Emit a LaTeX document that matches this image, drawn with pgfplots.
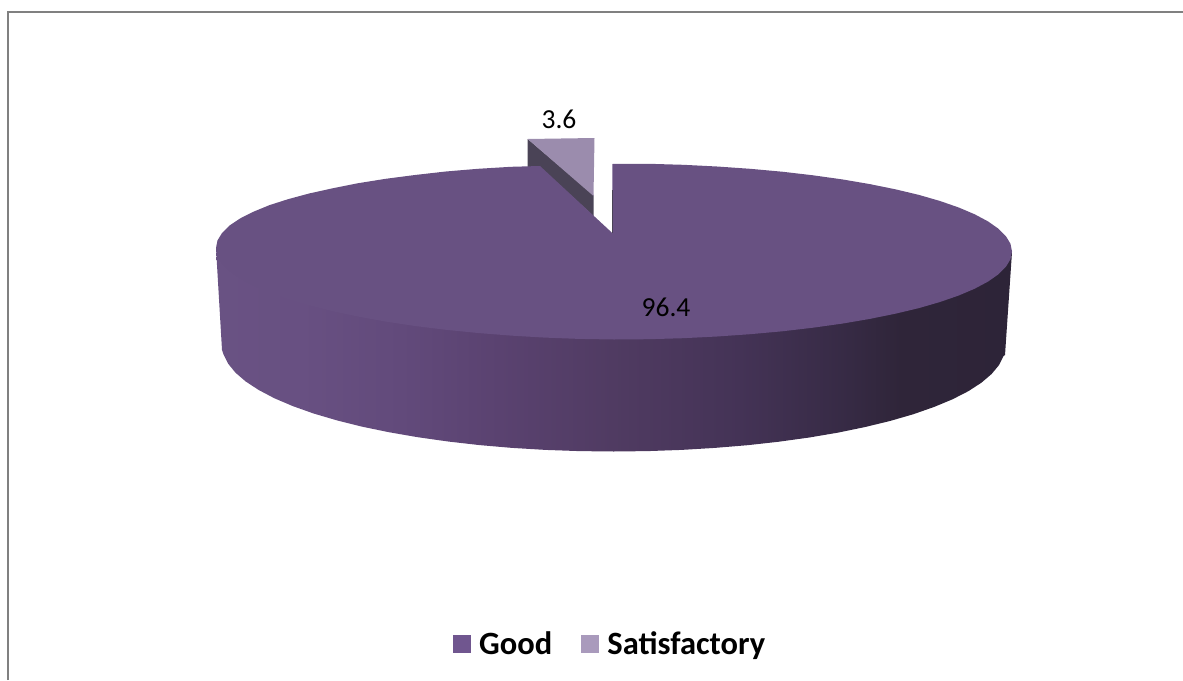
\documentclass[border=0pt]{standalone}
\usepackage{fontspec}
\setmainfont{Carlito}
\usepackage{pgfplots}
\pgfplotsset{compat=1.18}

\definecolor{goodtop}{HTML}{685182}
\definecolor{goodkey}{HTML}{70568F}
\definecolor{sattop}{HTML}{9B8CAD}
\definecolor{satkey}{HTML}{A99ABC}
\definecolor{satside}{HTML}{4A4356}

% side wall of the big slice, left to right (25bp..75bp is the wall's width)
\pgfdeclarehorizontalshading{wall}{100bp}{
  color(0bp)=(rgb,255:red,105;green,82;blue,131);
  color(25bp)=(rgb,255:red,105;green,82;blue,131);
  color(30.3bp)=(rgb,255:red,104;green,80;blue,130);
  color(36.6bp)=(rgb,255:red,98;green,74;blue,123);
  color(42.8bp)=(rgb,255:red,90;green,66;blue,112);
  color(49.9bp)=(rgb,255:red,80;green,59;blue,98);
  color(57.9bp)=(rgb,255:red,68;green,51;blue,86);
  color(64.8bp)=(rgb,255:red,54;green,42;blue,68);
  color(68bp)=(rgb,255:red,47;green,37;blue,57);
  color(75bp)=(rgb,255:red,45;green,36;blue,56);
  color(100bp)=(rgb,255:red,45;green,36;blue,56)}

\begin{document}
\begin{tikzpicture}
\useasboundingbox (0,0) rectangle (1183pt,680pt);
\begin{axis}[
    scale only axis,
    width=1183pt, height=680pt,
    xmin=0, xmax=1183,
    ymin=0, ymax=680,
    y dir=reverse,
    axis lines=none,
    ticks=none,
    clip=false,
    legend columns=2,
    legend cell align=left,
    legend image code/.code={\fill[#1,draw=none] (0pt,-9pt) rectangle (18pt,9pt); \path (24pt,0pt);},
    legend style={
        at={(axis cs:453,644)}, anchor=west,
        draw=none, fill=none, inner sep=0pt, outer sep=0pt,
        font=\fontsize{32.5}{38}\bfseries\selectfont,
        /tikz/every even column/.append style={column sep=27pt},
    },
]

% frame of the chart area
\addplot[forget plot, color=gray, line width=2pt] coordinates {(8,680) (8,11.8) (1183,11.8)};

% wall of the Good slice
\addplot[forget plot, draw=none, shade, shading=wall] coordinates {
    (216,248) (222,350)
    (223.5,354.3) (228,363.5) (235.4,372.6) (245.6,381.4) (258.7,390) (274.5,398.3) (292.8,406.1) (313.6,413.5)
    (336.7,420.3) (361.8,426.6) (388.9,432.2) (417.7,437.2) (448.1,441.5) (479.6,445.1) (512.2,447.9) (545.5,449.9)
    (579.4,451.1) (613.5,451.5)
    (647.6,451.1) (681.5,449.9) (714.8,447.9) (747.4,445.2) (778.9,441.7) (809.3,437.5) (838.1,432.6) (865.2,427)
    (890.3,420.9) (913.4,414.2) (934.2,406.9) (952.5,399.3) (968.3,391.2) (981.4,382.7) (991.6,374) (999,365.1)
    (1003.5,356.1) (1005,355) (1012,252)
} --cycle;

% Satisfactory slice, pulled out
\addplot[forget plot, draw=none, fill=satside] coordinates {
    (527.7,139) (593.5,195) (593.5,216) (540,167) (527.7,167)
} --cycle;
\addplot[forget plot, draw=none, fill=sattop] coordinates {
    (527.7,139) (594.5,138) (593.5,196)
} --cycle;

% top of the Good slice
\addplot[forget plot, draw=none, fill=goodtop] coordinates {
    (612.3,164) (648.7,163.8) (683.1,164.8) (717,166.5) (750.1,168.8) (782.2,171.7) (813,175.3) (842.3,179.4)
    (869.8,184.1) (895.4,189.3) (918.9,194.9) (940,201) (958.7,207.5) (974.7,214.3) (988,221.4) (998.4,228.7)
    (1005.9,236.2) (1010.5,243.8) (1012,251.5)
    (1010.5,259.2) (1005.9,266.8) (998.4,274.3) (988,281.6) (974.7,288.7) (958.7,295.5) (940,302) (918.9,308.1)
    (895.4,313.7) (869.8,318.9) (842.3,323.6) (813,327.7) (782.2,331.3) (750.1,334.2) (717,336.5) (683.1,338.2)
    (648.7,339.2) (614,339.5)
    (579.3,338.9) (544.9,337.6) (511,335.6) (477.9,333) (445.8,329.8) (415,326) (385.7,321.6) (358.2,316.6)
    (332.6,311.2) (309.1,305.4) (288,299.1) (269.3,292.5) (253.3,285.5) (240,278.3) (229.6,270.9) (222.1,263.4)
    (217.5,255.7) (216,248)
    (217.5,240.4) (222.1,232.9) (229.6,225.5) (240,218.5) (253.3,211.8) (269.3,205.2) (288,199.2) (309.1,193.5)
    (332.6,188.3) (358.2,183.2) (385.7,178.8) (415,175) (445.8,171.5) (477.9,168.8) (511,166.8) (540,166)
    (612.8,233.5)
} --cycle;

% cut face seen edge on
\addplot[forget plot, color=satside, line width=0.9pt] coordinates {(612.4,190) (612.4,233)};

\node[font=\fontsize{27.5}{32}\selectfont, text=black] at (axis cs:559,119) {3.6};
\node[font=\fontsize{27.5}{32}\selectfont, text=black] at (axis cs:666,307) {96.4};

\addlegendimage{fill=goodkey}
\addlegendentry{Good}
\addlegendimage{fill=satkey}
\addlegendentry{Satisfactory}

\end{axis}
\end{tikzpicture}
\end{document}
